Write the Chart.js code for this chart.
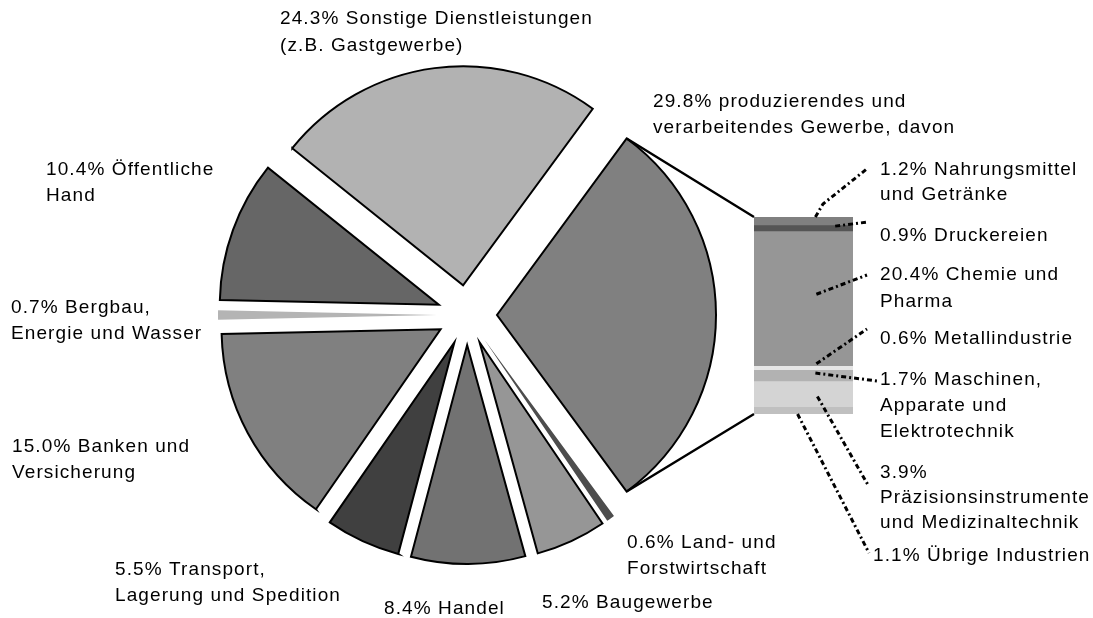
<!DOCTYPE html>
<html><head><meta charset="utf-8">
<script src="https://cdn.jsdelivr.net/npm/chart.js@4/dist/chart.umd.min.js"></script>
<style>
html,body{margin:0;padding:0;background:#fff;}
#wrap{position:relative;width:1093px;height:618px;overflow:hidden;}
canvas{position:absolute;left:0;top:0;}
</style></head><body>
<div id="wrap"><canvas id="pie" width="1093" height="618"></canvas><canvas id="bar" width="1093" height="618"></canvas></div>
<script>
// ---------- DATA ----------
const pieCategories = ['produzierendes und verarbeitendes Gewerbe, davon','Land- und Forstwirtschaft','Baugewerbe','Handel','Transport, Lagerung und Spedition','Banken und Versicherung','Bergbau, Energie und Wasser','Öffentliche Hand','Sonstige Dienstleistungen (z.B. Gastgewerbe)'];
const pieValues = [29.8, 0.6, 5.2, 8.4, 5.5, 15.0, 0.7, 10.4, 24.3];
const pieLabelParts = [
  ['produzierendes und','verarbeitendes Gewerbe, davon'],
  ['Land- und','Forstwirtschaft'],
  ['Baugewerbe'],
  ['Handel'],
  ['Transport,','Lagerung und Spedition'],
  ['Banken und','Versicherung'],
  ['Bergbau,','Energie und Wasser'],
  ['Öffentliche','Hand'],
  ['Sonstige Dienstleistungen','(z.B. Gastgewerbe)']
];
const barCategories = ['Nahrungsmittel und Getränke','Druckereien','Chemie und Pharma','Metallindustrie','Maschinen, Apparate und Elektrotechnik','Präzisionsinstrumente und Medizinaltechnik','Übrige Industrien'];
const barValues = [1.2, 0.9, 20.4, 0.6, 1.7, 3.9, 1.1];
const barLabelParts = [
  ['Nahrungsmittel','und Getränke'],
  ['Druckereien'],
  ['Chemie und','Pharma'],
  ['Metallindustrie'],
  ['Maschinen,','Apparate und','Elektrotechnik'],
  ['','Präzisionsinstrumente','und Medizinaltechnik'],
  ['Übrige Industrien']
];

// ---------- STYLE / LAYOUT ----------
const pieColors = ['#808080','#4d4d4d','#969696','#727272','#404040','#808080','#b4b4b4','#666666','#b2b2b2'];
const pieBorders = [2,0,2,2,2,2,0,2,2];
const barColors = ['#808080','#555555','#969696','#e6e6e6','#b2b2b2','#d4d4d4','#c0c0c0'];
const EXPLODE = 30;
const FONT = '19px "Liberation Sans", Arial, sans-serif';

const pieLabelPos = [
  {x:653, y:[106.5,133]},
  {x:627, y:[548,574]},
  {x:542, y:[608]},
  {x:384, y:[614]},
  {x:115, y:[575,601]},
  {x:12,  y:[452,478]},
  {x:11,  y:[313,339]},
  {x:46,  y:[175,201]},
  {x:280, y:[23.5,50.5]}
];
const barLabelPos = [
  {x:880, y:[175,200]},
  {x:880, y:[241]},
  {x:880, y:[280,306.5]},
  {x:880, y:[344]},
  {x:880, y:[385,411,437]},
  {x:880, y:[478,503,528]},
  {x:873, y:[561]}
];
// leader: anchor fractions inside bar segment, optional via point, end point near the label
const leaders = [
  {fx:0.62, fy:0,    via:[[823,204]], end:[868,168]},
  {fx:0.82, fy:0.2,  via:[], end:[868,222]},
  {fx:0.63, fy:0.47, via:[], end:[867,275]},
  {fx:0.63, fy:-0.5, via:[], end:[867,329]},
  {fx:0.62, fy:0.3,  via:[], end:[877,381]},
  {fx:0.64, fy:0.6,  via:[], end:[868,485]},
  {fx:0.44, fy:1.0,  via:[], end:[869,553]}
];

const pieSum = pieValues.reduce((a,b)=>a+b,0);
const barSum = barValues.reduce((a,b)=>a+b,0);
const pct = v => v.toFixed(1) + '%';
function labelLines(parts, v){
  const first = (pct(v) + ' ' + parts[0]).trim();
  return [first].concat(parts.slice(1));
}

// ---------- PIE ----------
const explodePlugin = {
  id:'explode',
  afterDatasetsUpdate(chart){
    chart.getDatasetMeta(0).data.forEach(arc=>{
      const mid = (arc.startAngle + arc.endAngle)/2;
      arc.x += Math.cos(mid)*EXPLODE;
      arc.y += Math.sin(mid)*EXPLODE;
    });
  }
};
const rot = 90 - pieValues[0]/pieSum*180;
const pieChart = new Chart(document.getElementById('pie'), {
  type:'pie',
  data:{labels:pieCategories, datasets:[{
    data:pieValues, backgroundColor:pieColors, borderColor:'#000', borderWidth:pieBorders,
    borderJoinStyle:'miter', rotation:rot, radius:219
  }]},
  options:{
    responsive:false, animation:false, events:[],
    rotation:rot, radius:219,
    layout:{padding:{left:0,right:159,top:12,bottom:0}},
    plugins:{legend:{display:false}, tooltip:{enabled:false}}
  },
  plugins:[explodePlugin]
});

// ---------- BAR + annotations ----------
const annotPlugin = {
  id:'annot',
  afterDraw(chart){
    const ctx = chart.ctx;
    const els = barValues.map((v,i)=>chart.getDatasetMeta(i).data[0]);
    const segs = els.map(e=>{
      const top = Math.min(e.y, e.base), h = Math.abs(e.base - e.y);
      return {left:e.x - e.width/2, width:e.width, top, h};
    });
    const barLeft = segs[0].left;
    const barTop = segs[0].top;
    const barBottom = segs[segs.length-1].top + segs[segs.length-1].h;
    // connector lines from exploded pie slice to bar
    const arc = pieChart.getDatasetMeta(0).data[0];
    const R = arc.outerRadius;
    ctx.save();
    ctx.strokeStyle = '#000'; ctx.lineWidth = 2.4;
    ctx.beginPath();
    ctx.moveTo(arc.x + R*Math.cos(arc.startAngle), arc.y + R*Math.sin(arc.startAngle));
    ctx.lineTo(barLeft, barTop);
    ctx.moveTo(arc.x + R*Math.cos(arc.endAngle), arc.y + R*Math.sin(arc.endAngle));
    ctx.lineTo(barLeft, barBottom);
    ctx.stroke();
    // leader lines
    ctx.lineWidth = 3;
    ctx.setLineDash([5,3,2,3]);
    leaders.forEach((L,i)=>{
      const s = segs[i];
      const sx = s.left + L.fx*s.width, sy = s.top + L.fy*s.h;
      ctx.beginPath();
      ctx.moveTo(sx, sy);
      L.via.forEach(p=>ctx.lineTo(p[0],p[1]));
      ctx.lineTo(L.end[0], L.end[1]);
      ctx.stroke();
    });
    ctx.setLineDash([]);
    // labels
    ctx.fillStyle = '#000';
    ctx.font = FONT;
    try{ ctx.letterSpacing = '1.1px'; }catch(e){}
    ctx.textBaseline = 'alphabetic';
    ctx.textAlign = 'left';
    pieValues.forEach((v,i)=>{
      const lines = labelLines(pieLabelParts[i], v);
      lines.forEach((t,k)=>ctx.fillText(t, pieLabelPos[i].x, pieLabelPos[i].y[k]));
    });
    barValues.forEach((v,i)=>{
      const lines = labelLines(barLabelParts[i], v);
      lines.forEach((t,k)=>ctx.fillText(t, barLabelPos[i].x, barLabelPos[i].y[k]));
    });
    ctx.restore();
  }
};
new Chart(document.getElementById('bar'), {
  type:'bar',
  data:{labels:[''], datasets: barValues.map((v,i)=>({
    label:barCategories[i], data:[v], backgroundColor:barColors[i], borderWidth:0,
    barPercentage:1, categoryPercentage:1, stack:'s'
  }))},
  options:{
    responsive:false, animation:false, events:[],
    layout:{padding:{left:754,right:240,top:217,bottom:204}},
    scales:{
      x:{display:false, stacked:true},
      y:{display:false, stacked:true, min:0, max:barSum, reverse:true}
    },
    plugins:{legend:{display:false}, tooltip:{enabled:false}}
  },
  plugins:[annotPlugin]
});
</script>
</body></html>
